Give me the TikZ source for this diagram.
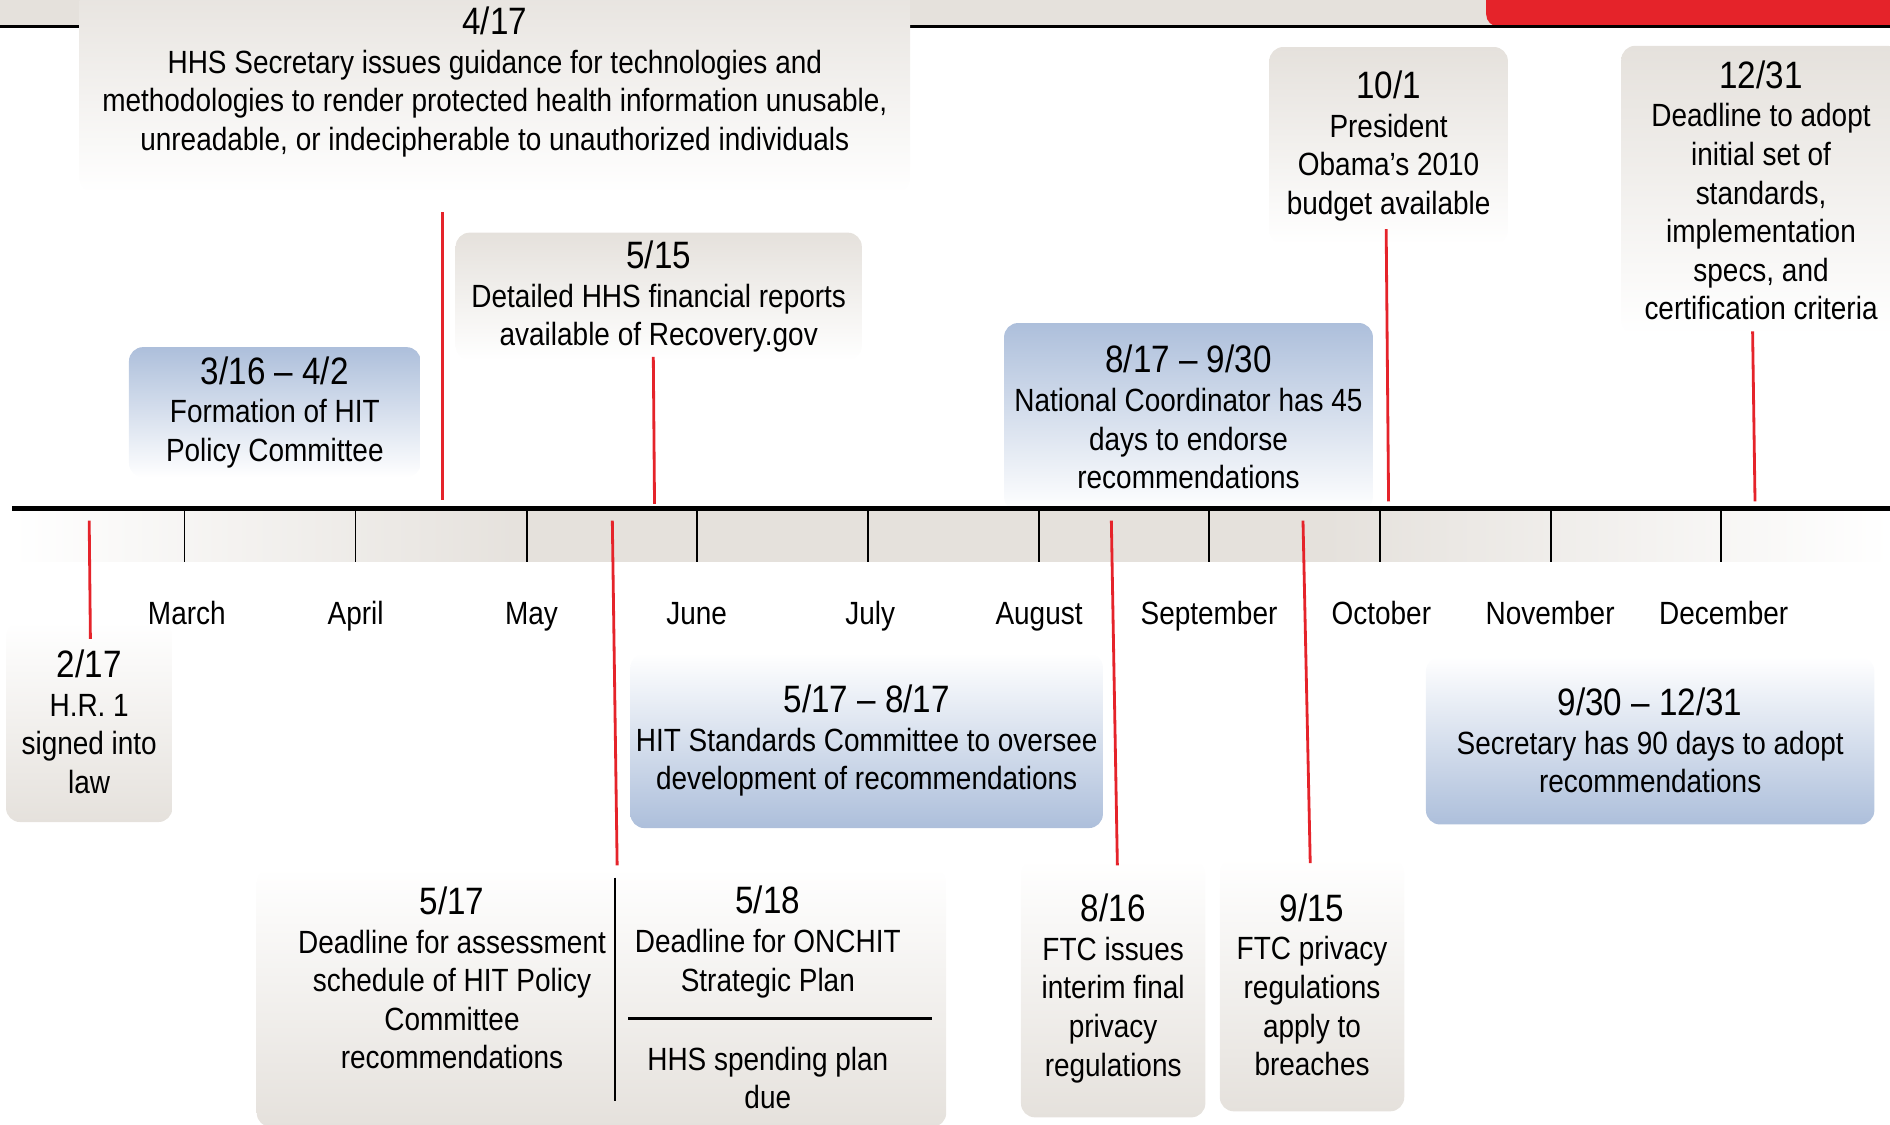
\documentclass[tikz,border=0pt]{standalone}
\usepackage{fontspec}
\usepackage{tikz}
\setmainfont[FakeStretch=0.87]{Liberation Sans}

\definecolor{boxgray}{HTML}{E5E1DC}
\definecolor{boxblue}{HTML}{ADBFDB}
\definecolor{linered}{HTML}{E5232A}
\newcommand{\datefont}{\fontsize{19}{22}\selectfont}

\tikzset{
	upbox/.style={rounded corners=7pt,top color=boxgray,bottom color=white,align=center,inner sep=0pt,font=\fontsize{16}{19.2}\selectfont},
	upblue/.style={upbox,top color=boxblue},
	downbox/.style={rounded corners=7pt,top color=white,bottom color=boxgray,align=center,inner sep=0pt,font=\fontsize{16}{19.2}\selectfont},
	downblue/.style={downbox,bottom color=boxblue},
	plaintext/.style={align=center,inner sep=0pt,font=\fontsize{16}{19.2}\selectfont},
	month/.style={anchor=base,inner sep=0pt,font=\fontsize{16}{19.2}\selectfont},
	stem/.style={draw=linered,line width=1.4pt},
	tick/.style={draw=black,line width=0.9pt}
}

\begin{document}
\begin{tikzpicture}[x=0.6pt,y=-0.6pt]
	\clip (0,0) rectangle (1568,933);

	% header strip
	\fill[boxgray] (0,0) rectangle (1568,22);
	\fill[linered,rounded corners=6pt] (1233,-12) rectangle (1590,22);
	\draw[line width=1.2pt] (0,22) -- (1568,22);

	% events above the axis
	\node[upbox,minimum width=413.4pt,minimum height=110.4pt] (b417) at (410.5,68)
		{{\datefont 4/17}\\HHS Secretary issues guidance for technologies and\\methodologies to render protected health information unusable,\\unreadable, or indecipherable to unauthorized individuals};
	\node[upbox,minimum width=202.2pt,minimum height=63.6pt] (b515) at (546.5,246)
		{{\datefont 5/15}\\Detailed HHS financial reports\\available of Recovery.gov};
	\node[upblue,minimum width=145.2pt,minimum height=64.8pt] (b316) at (228,342)
		{{\datefont 3/16 – 4/2}\\Formation of HIT\\Policy Committee};
	\node[upblue,minimum width=183.6pt,minimum height=93.6pt] (b817) at (986,346)
		{{\datefont 8/17 – 9/30}\\National Coordinator has 45\\days to endorse\\recommendations};
	\node[upbox,minimum width=118.8pt,minimum height=98.4pt] (b101) at (1152,121)
		{{\datefont 10/1}\\President\\Obama’s 2010\\budget available};
	\node[upbox,minimum width=139.2pt,minimum height=144pt] (b1231) at (1461,158)
		{{\datefont 12/31}\\Deadline to adopt\\initial set of\\standards,\\implementation\\specs, and\\certification criteria};

	% events below the axis
	\node[downbox,minimum width=82.8pt,minimum height=99.6pt] (b217) at (74,599)
		{{\datefont 2/17}\\H.R. 1\\signed into\\law};
	\node[downblue,minimum width=235.2pt,minimum height=87pt] (b517r) at (719,614.5)
		{{\datefont 5/17 – 8/17}\\HIT Standards Committee to oversee\\development of recommendations};
	\node[downblue,minimum width=223.2pt,minimum height=83.4pt] (b930) at (1369,614.5)
		{{\datefont 9/30 – 12/31}\\Secretary has 90 days to adopt\\recommendations};
	\node[downbox,minimum width=343.2pt,minimum height=129pt] (b517) at (499,827.5) {};
	\node[plaintext] (t517) at (375,811.5)
		{{\datefont 5/17}\\Deadline for assessment\\schedule of HIT Policy\\Committee\\recommendations};
	\node[plaintext] (t518) at (637,781.5)
		{{\datefont 5/18}\\Deadline for ONCHIT\\Strategic Plan};
	\node[plaintext] (t518b) at (637,894.5)
		{HHS spending plan\\due};
	\node[downbox,minimum width=91.8pt,minimum height=128.4pt] (b816) at (923.5,820)
		{{\datefont 8/16}\\FTC issues\\interim final\\privacy\\regulations};
	\node[downbox,minimum width=91.8pt,minimum height=126pt] (b915) at (1088.5,817)
		{{\datefont 9/15}\\FTC privacy\\regulations\\apply to\\breaches};

	\coordinate (v1) at (510,728);
	\coordinate (v2) at (510,913);
	\coordinate (h1) at (521,845);
	\coordinate (h2) at (773,845);
	\draw[line width=1.1pt] (v1) -- (v2);
	\draw[line width=1.1pt] (h1) -- (h2);

	% axis
	\fill[left color=white,right color=boxgray] (10,422) rectangle (440,466);
	\fill[boxgray] (440,422) rectangle (1100,466);
	\fill[left color=boxgray,right color=white] (1100,422) rectangle (1568,466);
	\draw[tick] (153,422) -- (153,466);
	\draw[tick] (295,422) -- (295,466);
	\draw[tick] (437,422) -- (437,466);
	\draw[tick] (578,422) -- (578,466);
	\draw[tick] (720,422) -- (720,466);
	\draw[tick] (862,422) -- (862,466);
	\draw[tick] (1003,422) -- (1003,466);
	\draw[tick] (1145,422) -- (1145,466);
	\draw[tick] (1287,422) -- (1287,466);
	\draw[tick] (1428,422) -- (1428,466);
	\draw[line width=2.6pt] (10,422) -- (1568,422);

	\node[month] (mar) at (155,518) {March};
	\node[month] (apr) at (295,518) {April};
	\node[month] (may) at (441,518) {May};
	\node[month] (jun) at (578,518) {June};
	\node[month] (jul) at (722,518) {July};
	\node[month] (aug) at (862,518) {August};
	\node[month] (sep) at (1003,518) {September};
	\node[month] (oct) at (1146,518) {October};
	\node[month] (nov) at (1286,518) {November};
	\node[month] (dec) at (1430,518) {December};

	% stems
	\coordinate (s417) at (367,176);   \coordinate (a417) at (367,415);
	\coordinate (s515) at (542,296);   \coordinate (a515) at (543,418);
	\coordinate (s101) at (1150,190);  \coordinate (a101) at (1152,416);
	\coordinate (s1231) at (1454,275); \coordinate (a1231) at (1456,416);
	\coordinate (a217) at (74,432);    \coordinate (s217) at (75,530);
	\coordinate (a517) at (508,432);   \coordinate (s517) at (512,718);
	\coordinate (a816) at (922,432);   \coordinate (s816) at (927,718);
	\coordinate (a915) at (1081,432);  \coordinate (s915) at (1087,716);

	\draw[stem] (s417) -- (a417);
	\draw[stem] (s515) -- (a515);
	\draw[stem] (s101) -- (a101);
	\draw[stem] (s1231) -- (a1231);
	\draw[stem] (a217) -- (s217);
	\draw[stem] (a517) -- (s517);
	\draw[stem] (a816) -- (s816);
	\draw[stem] (a915) -- (s915);

\end{tikzpicture}
\end{document}
